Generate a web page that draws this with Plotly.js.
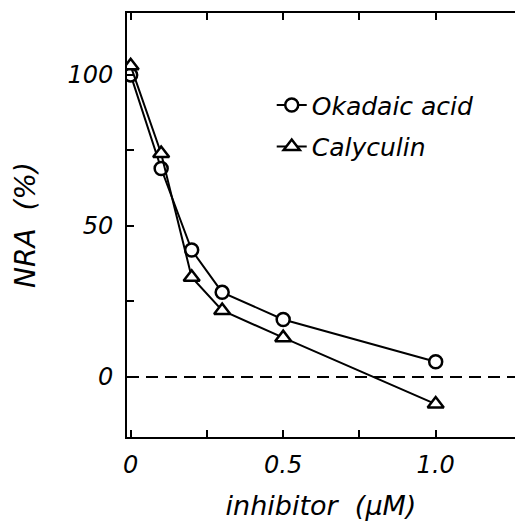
<!DOCTYPE html>
<html><head><meta charset="utf-8">
<script src="https://cdn.plot.ly/plotly-3.0.1.min.js"></script>
<style>html,body{margin:0;padding:0;background:#fff}#c{width:515px;height:521px}</style>
</head><body><div id="c"></div>
<script>
const concentration = [0, 0.1, 0.2, 0.3, 0.5, 1.0];
const okadaicAcid = [100, 69, 42, 28, 19, 5];
const calyculin = [103, 74, 33, 22, 13, -9];
const xTickVals = [0, 0.25, 0.5, 0.75, 1.0];
const xTickText = ['0', '', '0.5', '', '1.0'];
const yTickVals = [0, 25, 50, 75, 100];
const yTickText = ['0', '', '50', '', '100'];

const FONT = 'DejaVu Sans, sans-serif';
const traces = [
  {x: concentration, y: okadaicAcid, name: 'Okadaic acid', mode: 'lines+markers',
   legendgroup: 'a',
   line: {color: '#000', width: 2},
   marker: {symbol: 'circle', size: 13, color: '#fff', line: {color: '#000', width: 2.5}}},
  {x: concentration, y: calyculin, name: 'Calyculin', mode: 'lines+markers',
   legendgroup: 'b',
   line: {color: '#000', width: 2},
   marker: {symbol: 'triangle-up', size: 14, color: '#fff', line: {color: '#000', width: 2.5}}}
];
const layout = {
  width: 515, height: 521,
  margin: {l: 127, r: 0, t: 13, b: 84},
  paper_bgcolor: '#fff', plot_bgcolor: '#fff',
  font: {family: FONT, color: '#000', style: 'italic'},
  showlegend: true,
  legend: {x: 0.373, y: 0.734, xanchor: 'left', yanchor: 'middle', bgcolor: 'rgba(0,0,0,0)',
           font: {size: 25, family: FONT, style: 'italic'}, traceorder: 'grouped', tracegroupgap: 6},
  xaxis: {range: [-0.012, 1.26], tickvals: xTickVals, ticktext: xTickText,
          ticks: 'inside', ticklen: 7, tickwidth: 2, tickcolor: '#000',
          showline: true, linewidth: 2, linecolor: '#000', mirror: 'ticks',
          showgrid: false, zeroline: false, ticklabelstandoff: 5,
          tickfont: {size: 24, family: FONT, style: 'italic'},
          title: {text: 'inhibitor  (μM)', font: {size: 27, family: FONT, style: 'italic'}, standoff: 18}},
  yaxis: {range: [-19.9, 120.5], tickvals: yTickVals, ticktext: yTickText,
          ticks: 'inside', ticklen: 7, tickwidth: 2, tickcolor: '#000',
          showline: true, linewidth: 2, linecolor: '#000', mirror: false,
          showgrid: false, zeroline: false, ticklabelstandoff: 7,
          tickfont: {size: 24, family: FONT, style: 'italic'},
          title: {text: 'NRA  (%)', font: {size: 28, family: FONT, style: 'italic'}, standoff: 24}},
  shapes: [{type: 'line', xref: 'paper', x0: 0, x1: 1, yref: 'y', y0: 0, y1: 0,
            line: {color: '#000', width: 2, dash: '12px,7px'}, layer: 'below'}]
};
Plotly.newPlot('c', traces, layout, {staticPlot: true});
</script></body></html>
